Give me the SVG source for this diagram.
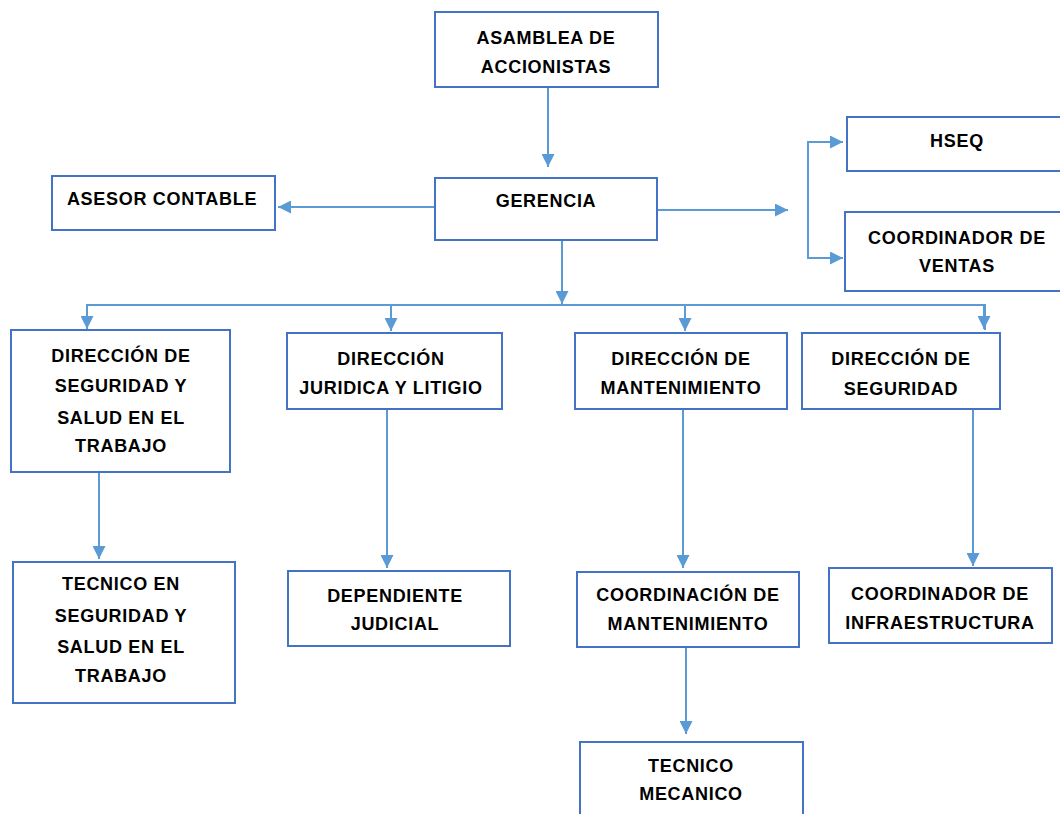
<svg xmlns="http://www.w3.org/2000/svg" width="1060" height="814" viewBox="0 0 1060 814">
<defs>
<marker id="ah" markerUnits="userSpaceOnUse" markerWidth="13" markerHeight="13" viewBox="0 0 12 12" refX="12" refY="6" orient="auto">
<path d="M0,0 L12,6 L0,12 z" fill="#5B9BD5"/>
</marker>
<style>
.box{fill:#fff;stroke:#4472C4;stroke-width:2}
.t{font-family:"Liberation Sans",Arial,sans-serif;font-weight:bold;font-size:18px;fill:#000;text-anchor:middle;letter-spacing:0.7px}
.c{fill:none;stroke:#5B9BD5;stroke-width:2}
.ca{fill:none;stroke:#5B9BD5;stroke-width:2;marker-end:url(#ah)}
</style>
</defs>
<rect width="1060" height="814" fill="#fff"/>
<g id="connectors">
<line class="ca" x1="548" y1="88" x2="548" y2="167"/>
<line class="ca" x1="435" y1="207" x2="278" y2="207"/>
<line class="ca" x1="658" y1="210" x2="788" y2="210"/>
<polyline class="c" points="842,142 808,142 808,258 842,258"/>
<line class="ca" x1="808" y1="142" x2="843" y2="142"/>
<line class="ca" x1="808" y1="258" x2="843" y2="258"/>
<line class="ca" x1="562" y1="240" x2="562" y2="304"/>
<polyline class="c" points="87,330 87,305 985,305 985,330"/>
<line class="ca" x1="87" y1="305" x2="87" y2="329"/>
<line class="ca" x1="391" y1="305" x2="391" y2="331"/>
<line class="ca" x1="685" y1="305" x2="685" y2="331"/>
<line class="ca" x1="984" y1="305" x2="984" y2="329"/>
<line class="ca" x1="99" y1="472" x2="99" y2="559"/>
<line class="ca" x1="387" y1="409" x2="387" y2="568"/>
<line class="ca" x1="683" y1="409" x2="683" y2="568"/>
<line class="ca" x1="973" y1="409" x2="973" y2="566"/>
<line class="ca" x1="686" y1="647" x2="686" y2="734"/>
</g>
<g id="asamblea">
<rect class="box" x="435" y="12" width="223" height="75"/>
<text class="t" x="546" y="44">ASAMBLEA DE</text>
<text class="t" x="546" y="73">ACCIONISTAS</text>
</g>
<g id="gerencia">
<rect class="box" x="435" y="178" width="222" height="62"/>
<text class="t" x="546" y="207">GERENCIA</text>
</g>
<g id="asesor">
<rect class="box" x="52" y="176" width="223" height="54"/>
<text class="t" x="162" y="205">ASESOR CONTABLE</text>
</g>
<g id="hseq">
<rect class="box" x="847" y="117" width="230" height="54"/>
<text class="t" x="957" y="147">HSEQ</text>
</g>
<g id="ventas">
<rect class="box" x="845" y="212" width="230" height="79"/>
<text class="t" x="957" y="244">COORDINADOR DE</text>
<text class="t" x="957" y="272">VENTAS</text>
</g>
<g id="dir-sst">
<rect class="box" x="11" y="330" width="219" height="142"/>
<text class="t" x="121" y="362">DIRECCIÓN DE</text>
<text class="t" x="121" y="392">SEGURIDAD Y</text>
<text class="t" x="121" y="424">SALUD EN EL</text>
<text class="t" x="121" y="452">TRABAJO</text>
</g>
<g id="dir-juridica">
<rect class="box" x="287" y="333" width="215" height="76"/>
<text class="t" x="391" y="365">DIRECCIÓN</text>
<text class="t" x="391" y="394">JURIDICA Y LITIGIO</text>
</g>
<g id="dir-mant">
<rect class="box" x="575" y="333" width="212" height="76"/>
<text class="t" x="681" y="365">DIRECCIÓN DE</text>
<text class="t" x="681" y="394">MANTENIMIENTO</text>
</g>
<g id="dir-seg">
<rect class="box" x="802" y="333" width="198" height="76"/>
<text class="t" x="901" y="365">DIRECCIÓN DE</text>
<text class="t" x="901" y="395">SEGURIDAD</text>
</g>
<g id="tec-sst">
<rect class="box" x="13" y="562" width="222" height="141"/>
<text class="t" x="121" y="590">TECNICO EN</text>
<text class="t" x="121" y="622">SEGURIDAD Y</text>
<text class="t" x="121" y="653">SALUD EN EL</text>
<text class="t" x="121" y="682">TRABAJO</text>
</g>
<g id="dependiente">
<rect class="box" x="288" y="571" width="222" height="75"/>
<text class="t" x="395" y="602">DEPENDIENTE</text>
<text class="t" x="395" y="630">JUDICIAL</text>
</g>
<g id="coord-mant">
<rect class="box" x="577" y="572" width="222" height="75"/>
<text class="t" x="688" y="601">COORDINACIÓN DE</text>
<text class="t" x="688" y="630">MANTENIMIENTO</text>
</g>
<g id="coord-infra">
<rect class="box" x="829" y="568" width="223" height="75"/>
<text class="t" x="940" y="600">COORDINADOR DE</text>
<text class="t" x="940" y="629">INFRAESTRUCTURA</text>
</g>
<g id="tec-mecanico">
<rect class="box" x="580" y="742" width="223" height="90"/>
<text class="t" x="691" y="772">TECNICO</text>
<text class="t" x="691" y="800">MECANICO</text>
</g>
</svg>
